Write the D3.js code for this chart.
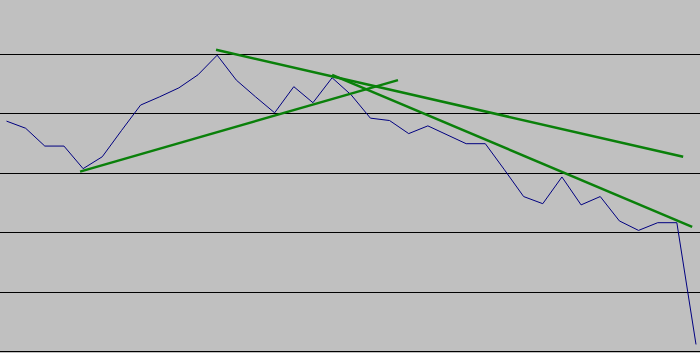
<!DOCTYPE html>
<html>
<head>
<meta charset="utf-8">
<script src="https://cdn.jsdelivr.net/npm/d3@7"></script>
<style>
  body { margin: 0; background: #c0c0c0; }
  svg { display: block; }
</style>
</head>
<body>
<svg class="chart" width="700" height="353"></svg>
<script>
// price series, one value per period
var prices = [38.7, 37.5, 34.5, 34.5, 30.7, 32.7, 37.1, 41.4, 42.8, 44.3,
              46.5, 49.8, 45.6, 42.8, 40.1, 44.5, 41.8, 46.0, 43.1, 39.2,
              38.8, 36.6, 37.9, 36.4, 34.9, 34.9, 30.5, 26.0, 24.8, 29.3,
              24.6, 26.0, 21.9, 20.3, 21.6, 21.6, 1.1]

// trend lines: [start index, start value, end index, end value]
var trendLines = [
    [3.84, 30.2, 20.44, 45.6],
    [10.94, 50.7, 35.33, 32.7],
    [17.0, 46.5, 35.8, 20.9]
]

var gridTicks = [0, 10, 20, 30, 40, 50]

var width = 700, height = 353

var svg = d3.select(".chart")

svg.append("rect")
    .attr("width", width)
    .attr("height", height)
    .attr("fill", "#c0c0c0")

var xScale = d3.scaleLinear()
    .domain([0, prices.length - 1])
    .range([6.5, 696])

var yScale = d3.scaleLinear()
    .domain([0, 50])
    .range([351, 54])

// horizontal grid
svg.append("g")
    .attr("class", "grid")
    .call(d3.axisLeft(yScale).tickValues(gridTicks).tickSize(-width).tickFormat(""))
    .call(g => g.select(".domain").remove())
    .call(g => g.selectAll("line")
        .attr("stroke", "#000")
        .attr("stroke-width", 1)
        .attr("shape-rendering", "crispEdges"))

// price line
var line = d3.line()
    .x((d, i) => xScale(i))
    .y(d => yScale(d))

svg.append("path")
    .datum(prices)
    .attr("d", line)
    .attr("fill", "none")
    .attr("stroke", "#000080")
    .attr("stroke-width", 1)

// trend lines
svg.append("g")
    .selectAll("line")
    .data(trendLines)
    .enter()
    .append("line")
    .attr("x1", d => xScale(d[0]))
    .attr("y1", d => yScale(d[1]))
    .attr("x2", d => xScale(d[2]))
    .attr("y2", d => yScale(d[3]))
    .attr("stroke", "#0a800a")
    .attr("stroke-width", 2.5)
</script>
</body>
</html>
